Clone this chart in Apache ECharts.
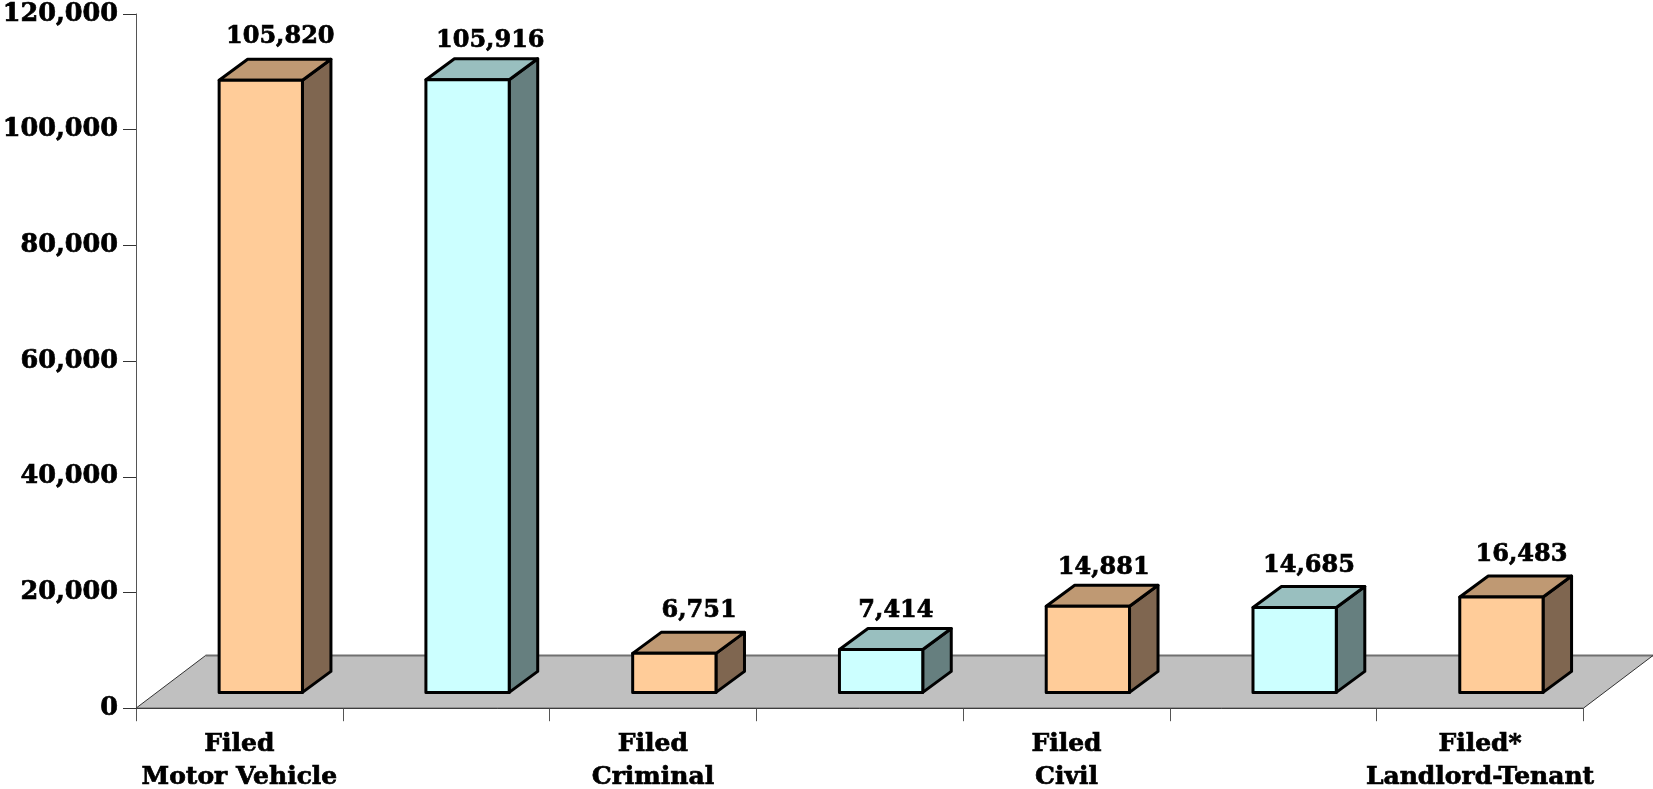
<!DOCTYPE html>
<html>
<head>
<meta charset="utf-8">
<style>html,body{margin:0;padding:0;background:#fff;overflow:hidden}#chart{width:1653px;height:789px}</style>
<script src="https://cdn.jsdelivr.net/npm/echarts@6/dist/echarts.min.js"></script>
</head>
<body>
<div id="chart"></div>
<script>
const categories = ["Filed\nMotor Vehicle", "", "Filed\nCriminal", "", "Filed\nCivil", "", "Filed*\nLandlord-Tenant"];
const filedValues = [105820, null, 6751, null, 14881, null, 16483];
const otherValues = [null, 105916, null, 7414, null, 14685, null];
const yMax = 120000;
const yInterval = 20000;

// drawing style (not data)
const FONT = '"DejaVu Serif"';
const labelNudge = [[19.5, -22], [22.7, -18], [24.8, -22], [14.8, -18], [15.8, -18], [14.3, -21], [20, -21]];
const barW = 83.3, depthX = 28.5, depthY = 21, barShiftX = 21.4, barShiftY = 15.8;
const floorDX = 69.6, floorDY = 52.7;
const orange = {front: '#FFCC99', top: '#BF9973', side: '#7F6650'};
const cyan = {front: '#CCFFFF', top: '#99BFBF', side: '#667F7F'};

function barRenderer(colors) {
  return function (params, api) {
    const idx = api.value(0), val = api.value(1);
    const base = api.coord([idx, 0]);
    const top = api.coord([idx, val]);
    const x0 = base[0] + barShiftX - barW / 2, x1 = x0 + barW;
    const yB = base[1] - barShiftY, yT = top[1] - barShiftY;
    const line = {stroke: '#000', lineWidth: 3, lineJoin: 'round'};
    const poly = (pts, fill) => ({type: 'polygon', shape: {points: pts}, style: Object.assign({fill}, line)});
    const n = labelNudge[idx];
    return {type: 'group', children: [
      poly([[x1, yB], [x1 + depthX, yB - depthY], [x1 + depthX, yT - depthY], [x1, yT]], colors.side),
      poly([[x0, yT], [x1, yT], [x1 + depthX, yT - depthY], [x0 + depthX, yT - depthY]], colors.top),
      poly([[x0, yB], [x1, yB], [x1, yT], [x0, yT]], colors.front),
      {type: 'text', style: {
        text: val.toLocaleString('en-US'),
        x: (x0 + x1) / 2 + n[0], y: yT - depthY + n[1],
        align: 'center', verticalAlign: 'middle',
        font: 'bold 24px ' + FONT, fill: '#000', stroke: '#000', lineWidth: 0.7
      }}
    ]};
  };
}

function floorRenderer(params, api) {
  const c = params.coordSys;
  const l = c.x, r = c.x + c.width, b = c.y + c.height;
  return {type: 'group', children: [
    {type: 'polygon', shape: {points: [[l, b], [r, b], [r + floorDX, b - floorDY], [l + floorDX, b - floorDY]]},
      style: {fill: '#C0C0C0', stroke: null}},
    {type: 'polyline', shape: {points: [[l + floorDX, b - floorDY], [r + floorDX, b - floorDY]]},
      style: {fill: null, stroke: '#707070', lineWidth: 2}},
    {type: 'polyline', shape: {points: [[l + floorDX, b - floorDY], [l, b], [r, b], [r + floorDX, b - floorDY]]},
      style: {fill: null, stroke: '#333', lineWidth: 1}}
  ]};
}

const toPairs = arr => arr.map((v, i) => [i, v]).filter(p => p[1] !== null);
const chart = echarts.init(document.getElementById('chart'));
chart.setOption({
  animation: false,
  backgroundColor: '#fff',
  grid: {left: 136, right: 69.6, top: 14, bottom: 80.8, containLabel: false, outerBoundsMode: 'none'},
  xAxis: {
    type: 'category', data: categories,
    axisLine: {show: true, lineStyle: {color: '#333', width: 1}},
    axisTick: {show: true, length: 13, interval: 0, alignWithLabel: false, lineStyle: {color: '#555', width: 1}},
    axisLabel: {interval: 0, margin: 20, color: '#000', fontFamily: FONT, fontWeight: 'bold', fontSize: 25, lineHeight: 33, hideOverlap: false,
      textBorderColor: '#000', textBorderWidth: 0.7},
    splitLine: {show: false}
  },
  yAxis: {
    type: 'value', min: 0, max: yMax, interval: yInterval,
    axisLine: {show: true, lineStyle: {color: '#555', width: 1}},
    axisTick: {show: true, length: 13, lineStyle: {color: '#333', width: 1}},
    axisLabel: {margin: 18, color: '#000', fontFamily: FONT, fontWeight: 'bold', fontSize: 25.5, padding: [7, 0, 0, 0],
      textBorderColor: '#000', textBorderWidth: 0.7,
      formatter: v => v.toLocaleString('en-US')},
    splitLine: {show: false}
  },
  series: [
    {type: 'custom', name: 'Floor', renderItem: floorRenderer, data: [[0, 0]], clip: false, silent: true, z: 1},
    {type: 'custom', name: 'Filed', renderItem: barRenderer(orange), data: toPairs(filedValues), encode: {x: 0, y: 1}, clip: false, z: 3},
    {type: 'custom', name: 'Other', renderItem: barRenderer(cyan), data: toPairs(otherValues), encode: {x: 0, y: 1}, clip: false, z: 3}
  ]
});
</script>
</body>
</html>
